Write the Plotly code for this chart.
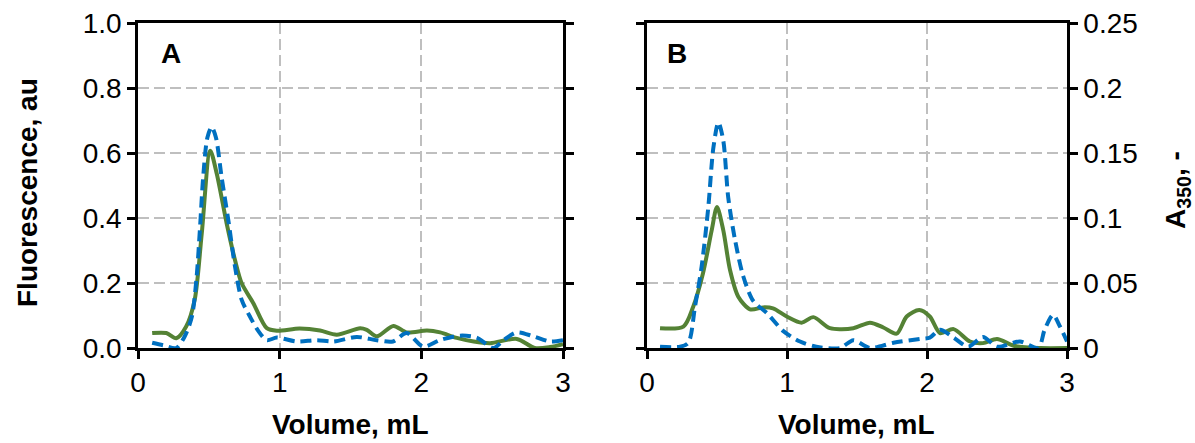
import plotly.graph_objects as go

# ---------------- data ----------------
# Panel A: fluorescence (au, left axis)
a_fl_x = [0.10, 0.20, 0.27, 0.34, 0.40, 0.45, 0.51, 0.556, 0.626, 0.685, 0.732, 0.814, 0.909,
          0.98, 1.14, 1.285, 1.403, 1.568, 1.615, 1.686, 1.803, 1.897, 2.04, 2.133, 2.25,
          2.37, 2.486, 2.674, 2.80, 2.91, 3.0]
a_fl_y = [0.046, 0.046, 0.030, 0.066, 0.148, 0.352, 0.607, 0.536, 0.383, 0.270, 0.199, 0.138, 0.061,
          0.053, 0.060, 0.054, 0.041, 0.061, 0.056, 0.036, 0.068, 0.048, 0.054, 0.048, 0.031,
          0.020, 0.015, 0.028, 0.0, 0.003, 0.012]
# Panel A: A350 (right scale)
a_abs_x = [0.10, 0.18, 0.27, 0.33, 0.38, 0.414, 0.438, 0.46, 0.49, 0.52, 0.55, 0.59, 0.638,
           0.685, 0.732, 0.791, 0.85, 0.909, 0.98, 1.12, 1.26, 1.38, 1.544, 1.686, 1.80,
           1.897, 2.015, 2.13, 2.274, 2.39, 2.51, 2.58, 2.674, 2.79, 2.91, 3.0]
a_abs_y = [0.004, 0.002, 0.0, 0.009, 0.024, 0.055, 0.093, 0.1315, 0.162, 0.170, 0.162, 0.1315, 0.098,
           0.0625, 0.037, 0.024, 0.013, 0.006, 0.008, 0.005, 0.006, 0.005, 0.0085, 0.006, 0.005,
           0.0115, 0.001, 0.006, 0.0095, 0.008, 0.0, 0.006, 0.012, 0.009, 0.005, 0.006]
# Panel B: fluorescence
b_fl_x = [0.093, 0.26, 0.33, 0.40, 0.462, 0.50, 0.545, 0.593, 0.652, 0.736, 0.83, 0.90, 0.998,
          1.105, 1.188, 1.307, 1.474, 1.593, 1.688, 1.783, 1.855, 1.945, 2.02, 2.093, 2.19,
          2.307, 2.40, 2.50, 2.62, 2.81, 3.0]
b_fl_y = [0.061, 0.066, 0.127, 0.230, 0.362, 0.434, 0.362, 0.240, 0.158, 0.119, 0.125, 0.122, 0.097,
          0.078, 0.095, 0.061, 0.061, 0.078, 0.063, 0.044, 0.097, 0.117, 0.097, 0.046, 0.058,
          0.020, 0.015, 0.028, 0.007, 0.0, 0.0]
# Panel B: A350
b_abs_x = [0.093, 0.236, 0.295, 0.343, 0.39, 0.438, 0.474, 0.51, 0.545, 0.58, 0.629, 0.688, 0.76,
           0.855, 0.974, 1.093, 1.21, 1.38, 1.474, 1.593, 1.76, 1.95, 2.02, 2.093, 2.19, 2.295,
           2.40, 2.50, 2.664, 2.795, 2.84, 2.90, 2.95, 3.0]
b_abs_y = [0.001, 0.001, 0.004, 0.032, 0.0625, 0.1085, 0.154, 0.1735, 0.1595, 0.116, 0.083, 0.055, 0.036,
           0.027, 0.013, 0.005, 0.001, 0.0, 0.006, 0.0, 0.004, 0.007, 0.008, 0.014, 0.008, 0.001,
           0.0085, 0.001, 0.005, 0.0, 0.014, 0.0255, 0.0165, 0.005]

x_ticks = [0, 1, 2, 3]
fl_ticks = [0.0, 0.2, 0.4, 0.6, 0.8, 1.0]
abs_ticks = [0, 0.05, 0.1, 0.15, 0.2, 0.25]
abs_tick_text = ["0", "0.05", "0.1", "0.15", "0.2", "0.25"]

GREEN = "#548235"
BLUE = "#0070C0"
GRID = "#BFBFBF"
FONT = "Liberation Sans, Arial, sans-serif"
W, H = 1195, 443

fig = go.Figure()
fl_line = dict(color=GREEN, width=4, shape="spline", smoothing=0.8)
abs_line = dict(color=BLUE, width=4, dash="11px,6px", shape="spline", smoothing=0.8)

fig.add_trace(go.Scatter(x=a_fl_x, y=a_fl_y, mode="lines", line=fl_line, xaxis="x", yaxis="y",
                         showlegend=False))
fig.add_trace(go.Scatter(x=a_abs_x, y=a_abs_y, mode="lines", line=abs_line, xaxis="x", yaxis="y3",
                         showlegend=False))
fig.add_trace(go.Scatter(x=b_fl_x, y=b_fl_y, mode="lines", line=fl_line, xaxis="x2", yaxis="y2",
                         showlegend=False))
fig.add_trace(go.Scatter(x=b_abs_x, y=b_abs_y, mode="lines", line=abs_line, xaxis="x2", yaxis="y4",
                         showlegend=False))

ydom = [1 - 348 / H, 1 - 23 / H]
xdomA = [138 / W, 563 / W]
xdomB = [647 / W, 1067 / W]

tickfont = dict(family=FONT, size=28, color="black")
xcommon = dict(range=[0, 3], tickvals=x_ticks, ticks="outside", ticklen=8, tickwidth=2.5,
               tickcolor="black", showline=True, linecolor="black", linewidth=2.5, mirror=True,
               showgrid=True, gridcolor=GRID, gridwidth=1.5, griddash="11px,5px",
               zeroline=False, tickfont=tickfont, fixedrange=True, automargin=False)
ycommon = dict(range=[0, 1], tickvals=fl_ticks, ticks="outside", ticklen=8, tickwidth=2.5,
               tickcolor="black", showline=True, linecolor="black", linewidth=2.5,
               showgrid=True, gridcolor=GRID, gridwidth=1.5, griddash="11px,5px",
               zeroline=False, tickfont=tickfont, tickformat=".1f", domain=ydom,
               automargin=False)
y2common = dict(range=[0, 0.25], tickvals=abs_ticks, ticktext=abs_tick_text, ticks="outside",
                ticklen=8, tickwidth=2.5, tickcolor="black", showline=True, linecolor="black",
                linewidth=2.5, showgrid=False, zeroline=False, tickfont=tickfont, side="right",
                automargin=False)

fig.update_layout(
    width=W, height=H,
    margin=dict(l=0, r=0, t=0, b=0),
    paper_bgcolor="white", plot_bgcolor="white",
    font=dict(family=FONT, color="black"),
    xaxis=dict(domain=xdomA, anchor="y", **xcommon),
    xaxis2=dict(domain=xdomB, anchor="y2", **xcommon),
    yaxis=dict(anchor="x", showticklabels=True, **ycommon),
    yaxis2=dict(anchor="x2", showticklabels=False, **ycommon),
    yaxis3=dict(anchor="x", overlaying="y", showticklabels=False, **y2common),
    yaxis4=dict(anchor="x2", overlaying="y2", showticklabels=True, **y2common),
)

title_font = dict(family=FONT, size=28, color="black")
label_font = dict(family=FONT, size=28, color="black")
ann = [
    ("<b>Fluorescence, au</b>", 28, 193, -90, title_font),
    ("<b>Volume, mL</b>", 350, 424, 0, title_font),
    ("<b>Volume, mL</b>", 857, 424, 0, title_font),
    ("<b>A<sub>350</sub>, -</b>", 1177, 190, -90, title_font),
    ("<b>A</b>", 171, 53, 0, label_font),
    ("<b>B</b>", 677, 53, 0, label_font),
]
for text, ax, ay, ang, fnt in ann:
    fig.add_annotation(text=text, x=ax / W, y=1 - ay / H, xref="paper", yref="paper",
                       xanchor="center", yanchor="middle", showarrow=False, textangle=ang,
                       font=fnt)

fig.write_html("out.html")
